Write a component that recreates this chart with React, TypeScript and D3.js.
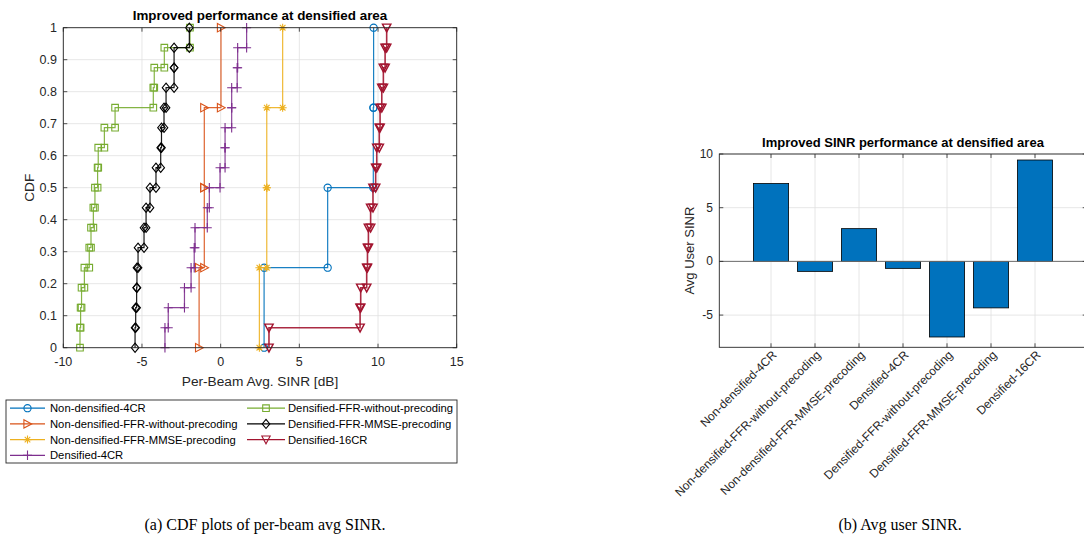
import React from "react";
import * as d3 from "d3";

// CDF samples per series, in dB
const nonDensified4CR = [2.76, 6.8, 9.7, 9.72];
const nonDensifiedFfrNoPrec = [-1.37, -1.04, -1.04, 0.02];
const nonDensifiedFfrMmse = [2.46, 2.93, 2.93, 3.94];
const densified4CR = [-3.54, -3.33, -2.3, -1.88, -1.68, -1.63, -0.85, -0.72, -0.04, 0.28, 0.28, 0.7, 0.7, 1.05, 1.08, 1.65];
const densifiedFfrNoPrec = [-8.94, -8.9, -8.84, -8.66, -8.35, -8.24, -8.09, -7.99, -7.82, -7.78, -7.39, -6.71, -4.28, -4.22, -3.58, -1.95];
const densifiedFfrMmse = [-5.44, -5.4, -5.34, -5.32, -5.25, -4.87, -4.74, -4.49, -4.11, -3.81, -3.76, -3.6, -3.47, -2.96, -2.96, -1.99];
const densified16CR = [3.07, 8.86, 8.9, 9.28, 9.33, 9.39, 9.53, 9.68, 9.85, 9.92, 10.08, 10.13, 10.24, 10.34, 10.45, 10.55];

const seriesNames = [
  "Non-densified-4CR",
  "Non-densified-FFR-without-precoding",
  "Non-densified-FFR-MMSE-precoding",
  "Densified-4CR",
  "Densified-FFR-without-precoding",
  "Densified-FFR-MMSE-precoding",
  "Densified-16CR",
];
const seriesSamples = [nonDensified4CR, nonDensifiedFfrNoPrec, nonDensifiedFfrMmse, densified4CR, densifiedFfrNoPrec, densifiedFfrMmse, densified16CR];
const seriesColors = ["#0072BD", "#D95319", "#EDB120", "#7E2F8E", "#77AC30", "#000000", "#A2142F"];
const seriesMarkers = ["o", ">", "*", "+", "s", "d", "v"];

const cdfXTicks = [-10, -5, 0, 5, 10, 15];
const cdfYTicks = [0, 0.1, 0.2, 0.3, 0.4, 0.5, 0.6, 0.7, 0.8, 0.9, 1];

// bar chart
const barCategories = seriesNames;
const avgUserSinr = [7.25, -0.93, 3.05, -0.65, -7.04, -4.33, 9.44];
const barYTicks = [-5, 0, 5, 10];

const FONT = "'Liberation Sans', Arial, Helvetica, sans-serif";
const SERIF = "'Liberation Serif', 'Times New Roman', serif";
const AX = "#262626";
const GRID = "#e0e0e0";

function markerPath(m: string): string {
  switch (m) {
    case "o":
      return "M3.6,0A3.6,3.6 0 1,1 -3.6,0A3.6,3.6 0 1,1 3.6,0Z";
    case ">":
      return "M-3.6,-4.2L4.2,0L-3.6,4.2Z";
    case "*":
      return "M-4,0H4M0,-4V4M-2.8,-2.8L2.8,2.8M-2.8,2.8L2.8,-2.8";
    case "+":
      return "M-4.5,0H4.5M0,-4.8V4.8";
    case "s":
      return "M-3.3,-3.3H3.3V3.3H-3.3Z";
    case "d":
      return "M0,-4.6L3.8,0L0,4.6L-3.8,0Z";
    case "v":
      return "M-4.2,-3.6H4.2L0,4.2Z";
  }
  return "";
}

function ecdfStairs(samples: number[]): [number, number][] {
  const s = d3.sort(samples);
  const n = s.length;
  const pts: [number, number][] = [];
  s.forEach((v, k) => {
    pts.push([v, k / n]);
    pts.push([v, (k + 1) / n]);
  });
  return pts;
}

const CdfPanel = () => {
  const x = d3.scaleLinear().domain([-10, 15]).range([63.3, 456.7]);
  const y = d3.scaleLinear().domain([0, 1]).range([347.7, 27.7]);
  const line = d3.line<[number, number]>().x(d => x(d[0])).y(d => y(d[1]));
  const [x0, x1] = x.range();
  const [y0, y1] = y.range();
  const tl = 4;

  const legendRows = [408.2, 423.9, 439.6, 455.3];
  const legendCols = [{ l0: 10, l1: 45, t: 50 }, { l0: 247, l1: 285, t: 288 }];

  return (
    <g>
      {/* grid */}
      {cdfXTicks.map(t => (
        <line key={"gx" + t} x1={x(t)} x2={x(t)} y1={y0} y2={y1} stroke={GRID} strokeWidth={0.8} />
      ))}
      {cdfYTicks.map(t => (
        <line key={"gy" + t} x1={x0} x2={x1} y1={y(t)} y2={y(t)} stroke={GRID} strokeWidth={0.8} />
      ))}
      {/* series */}
      {seriesSamples.map((s, i) => {
        const pts = ecdfStairs(s);
        const red = i === 6;
        return (
          <g key={"s" + i} stroke={seriesColors[i]} fill="none">
            <path d={line(pts) || ""} strokeWidth={red ? 1.6 : 1.2} strokeOpacity={0.9} />
            {pts.map((p, j) => (
              <path key={j} d={markerPath(seriesMarkers[i])} transform={`translate(${x(p[0])},${y(p[1])})`} strokeWidth={red ? 1.4 : 1.1} />
            ))}
          </g>
        );
      })}
      {/* box and ticks */}
      <rect x={x0} y={y1} width={x1 - x0} height={y0 - y1} fill="none" stroke={AX} strokeWidth={0.9} />
      {cdfXTicks.map(t => (
        <g key={"tx" + t}>
          <line x1={x(t)} x2={x(t)} y1={y0} y2={y0 - tl} stroke={AX} strokeWidth={0.8} />
          <line x1={x(t)} x2={x(t)} y1={y1} y2={y1 + tl} stroke={AX} strokeWidth={0.8} />
          <text x={x(t)} y={362} textAnchor="middle" dominantBaseline="central" fontSize={12.5} fill={AX}>{t}</text>
        </g>
      ))}
      {cdfYTicks.map(t => (
        <g key={"ty" + t}>
          <line x1={x0} x2={x0 + tl} y1={y(t)} y2={y(t)} stroke={AX} strokeWidth={0.8} />
          <line x1={x1} x2={x1 - tl} y1={y(t)} y2={y(t)} stroke={AX} strokeWidth={0.8} />
          <text x={57} y={y(t)} textAnchor="end" dominantBaseline="central" fontSize={12.5} fill={AX}>{t}</text>
        </g>
      ))}
      <text x={(x0 + x1) / 2} y={381} textAnchor="middle" dominantBaseline="central" fontSize={13.7} fill={AX}>Per-Beam Avg. SINR [dB]</text>
      <text transform={`translate(29,${(y0 + y1) / 2}) rotate(-90)`} textAnchor="middle" dominantBaseline="central" fontSize={13.7} fill={AX}>CDF</text>
      <text x={(x0 + x1) / 2} y={15.5} textAnchor="middle" dominantBaseline="central" fontSize={13.4} fontWeight="bold" fill="#000">Improved performance at densified area</text>

      {/* legend */}
      <rect x={6} y={400} width={451} height={63} fill="#fff" stroke={AX} strokeWidth={0.9} />
      {seriesNames.map((name, i) => {
        const col = i < 4 ? legendCols[0] : legendCols[1];
        const ry = legendRows[i < 4 ? i : i - 4];
        const mx = (col.l0 + col.l1) / 2;
        return (
          <g key={"lg" + i}>
            <line x1={col.l0} x2={col.l1} y1={ry} y2={ry} stroke={seriesColors[i]} strokeWidth={1.2} />
            <path d={markerPath(seriesMarkers[i])} transform={`translate(${mx},${ry})`} stroke={seriesColors[i]} fill="none" strokeWidth={1.1} />
            <text x={col.t} y={ry} dominantBaseline="central" fontSize={11.25} fill="#000">{name}</text>
          </g>
        );
      })}
      <text x={265} y={530} textAnchor="middle" fontSize={16} fontFamily={SERIF} fill="#000">(a) CDF plots of per-beam avg SINR.</text>
    </g>
  );
};

const BarPanel = () => {
  const idx = d3.range(1, barCategories.length + 1);
  const x = d3.scaleLinear().domain([1 - 1.175, 7 + 1.175]).range([719.3, 1086.7]);
  const y = d3.scaleLinear().domain([-8, 10]).range([347.3, 154]);
  const [x0, x1] = x.range();
  const [y0, y1] = y.range();
  const bw = (x(2) - x(1)) * 0.8;
  const tl = 4;
  return (
    <g>
      {idx.map(i => (
        <line key={"gx" + i} x1={x(i)} x2={x(i)} y1={y0} y2={y1} stroke={GRID} strokeWidth={0.8} />
      ))}
      {barYTicks.map(t => (
        <line key={"gy" + t} x1={x0} x2={x1} y1={y(t)} y2={y(t)} stroke={GRID} strokeWidth={0.8} />
      ))}
      {avgUserSinr.map((v, i) => (
        <rect key={"b" + i} x={x(i + 1) - bw / 2} y={y(Math.max(0, v))} width={bw} height={Math.abs(y(v) - y(0))} fill="#0072BD" stroke="#000" strokeWidth={0.8} />
      ))}
      <line x1={x0} x2={x1} y1={y(0)} y2={y(0)} stroke="#6e6e6e" strokeWidth={1} />
      <rect x={x0} y={y1} width={x1 - x0} height={y0 - y1} fill="none" stroke={AX} strokeWidth={0.9} />
      {idx.map(i => (
        <g key={"tx" + i}>
          <line x1={x(i)} x2={x(i)} y1={y0} y2={y0 - tl} stroke={AX} strokeWidth={0.8} />
          <line x1={x(i)} x2={x(i)} y1={y1} y2={y1 + tl} stroke={AX} strokeWidth={0.8} />
          <text transform={`translate(${x(i)},${y0 + 2}) rotate(-45)`} dy="0.75em" textAnchor="end" fontSize={12} fill={AX}>{barCategories[i - 1]}</text>
        </g>
      ))}
      {barYTicks.map(t => (
        <g key={"ty" + t}>
          <line x1={x0} x2={x0 + tl} y1={y(t)} y2={y(t)} stroke={AX} strokeWidth={0.8} />
          <line x1={x1} x2={x1 - tl} y1={y(t)} y2={y(t)} stroke={AX} strokeWidth={0.8} />
          <text x={713} y={y(t)} textAnchor="end" dominantBaseline="central" fontSize={12} fill={AX}>{t}</text>
        </g>
      ))}
      <text x={713} y={y(10)} textAnchor="end" dominantBaseline="central" fontSize={12} fill={AX}></text>
      <text transform={`translate(689,${(y0 + y1) / 2}) rotate(-90)`} textAnchor="middle" dominantBaseline="central" fontSize={13} fill={AX}>Avg User SINR</text>
      <text x={(x0 + x1) / 2} y={142.5} textAnchor="middle" dominantBaseline="central" fontSize={13} fontWeight="bold" fill="#000">Improved SINR performance at densified area</text>
      <text x={900} y={530} textAnchor="middle" fontSize={16} fontFamily={SERIF} fill="#000">(b) Avg user SINR.</text>
    </g>
  );
};

export default function App() {
  return (
    <svg width={1084} height={543} style={{ position: "absolute", left: 0, top: 0, background: "#fff" }} fontFamily={FONT}>
      <rect width={1084} height={543} fill="#fff" />
      <CdfPanel />
      <BarPanel />
    </svg>
  );
}
